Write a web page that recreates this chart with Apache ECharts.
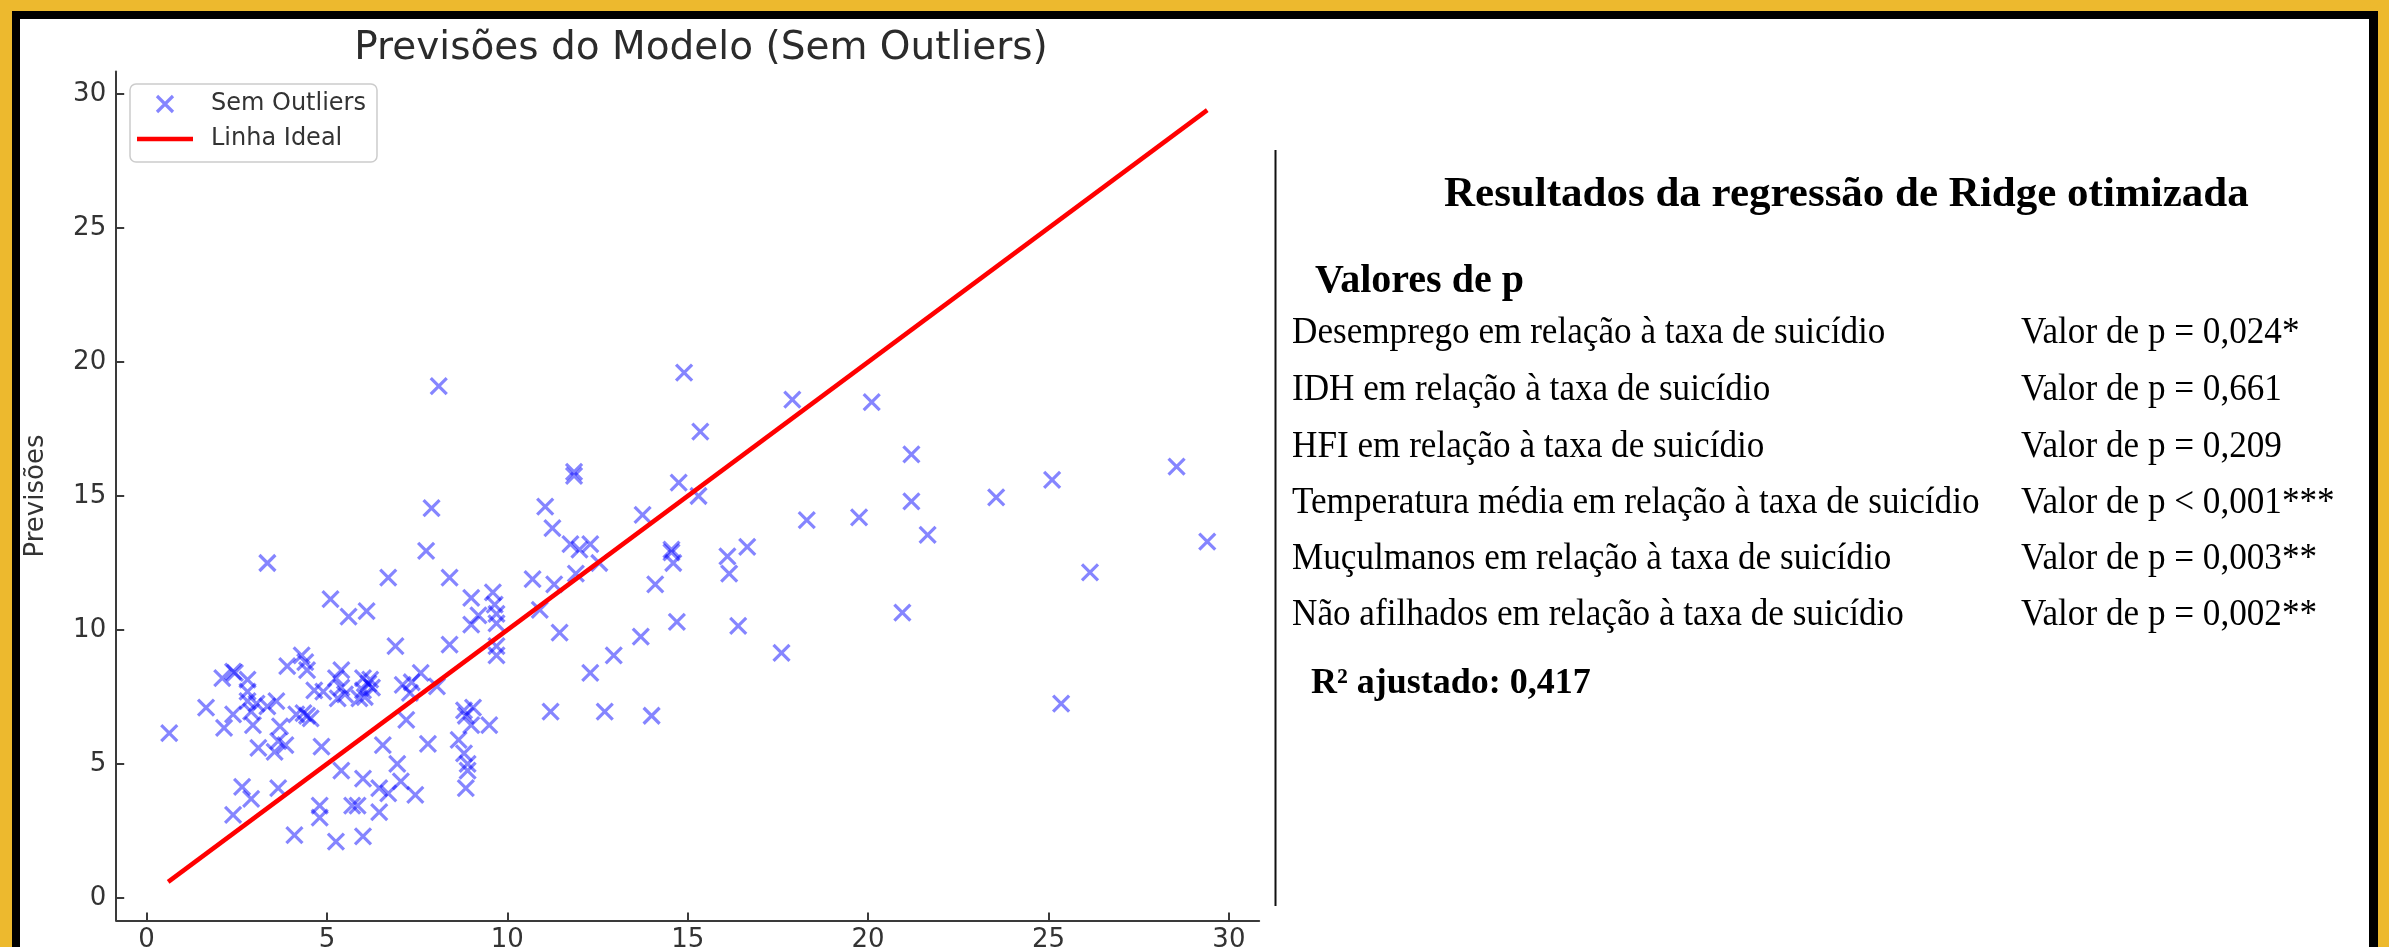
<!DOCTYPE html>
<html>
<head>
<meta charset="utf-8">
<script src="https://cdn.jsdelivr.net/npm/echarts@6/dist/echarts.min.js"></script>
<style>
html,body{margin:0;padding:0;background:#EDB92E;}
#chart{width:2389px;height:947px;}
</style>
</head>
<body>
<div id="chart"></div>
<script>
// ---------------- DATA ----------------
const chartTitle = "Previsões do Modelo (Sem Outliers)";
const yAxisName = "Previsões";
const seriesNames = ["Sem Outliers", "Linha Ideal"];
const axisTickValues = [0, 5, 10, 15, 20, 25, 30];

const actualValues = [
  8.1, 14.9, 17.9, 20.1, 15.35, 21.2, 28.55, 11.85, 11.85, 25.1,
  14.75, 15.3, 23.55, 21.2, 7.9, 11.05, 13.75, 19.75, 18.3, 11.25,
  21.65, 29.4, 11.75, 12.3, 16.65, 12.0, 14.55, 14.55, 7.75, 16.1,
  14.6, 12.55, 3.35, 26.15, 16.15, 11.9, 6.7, 8.4, 10.7, 11.3,
  14.1, 9.6, 9.0, 5.1, 9.65, 10.9, 6.1, 20.95, 9.7, 9.2,
  5.6, 14.7, 9.7, 9.0, 16.4, 11.45, 13.7, 8.4, 6.9, 9.7,
  17.6, 9.7, 12.95, 4.3, 4.4, 3.9, 4.45, 5.4, 2.4, 2.45,
  7.6, 12.3, 2.1, 5.25, 6.0, 6.2, 2.8, 7.35, 6.15, 7.1,
  8.05, 5.4, 6.25, 6.0, 4.65, 2.8, 4.9, 7.3, 5.5, 6.05,
  5.3, 5.9, 3.6, 2.8, 3.05, 25.35, 3.35, 1.65, 9.05, 8.8,
  2.9, 11.2, 12.7, 4.35, 2.4, 4.15, 8.85, 4.45, 14.0, 4.55,
  7.2, 2.95, 9.0, 9.5, 3.7, 2.15, 0.63, 8.65, 3.65, 7.8,
  3.85, 6.55, 4.85, 3.1, 3.55, 8.8, 6.95, 8.9, 8.9, 5.4,
  6.0, 7.05, 2.65, 3.65, 6.45, 8.85, 6.7, 7.45, 2.9, 5.7,
  5.85, 4.8, 6.45, 2.4, 4.8, 4.1, 6.0, 5.25
];
const predictedValues = [
  19.1, 19.6, 18.6, 18.5, 17.4, 16.55, 16.1, 15.9, 15.75, 15.6,
  15.5, 15.0, 14.95, 14.8, 14.55, 14.6, 14.3, 14.2, 14.1, 13.8,
  13.55, 13.3, 13.2, 13.2, 13.1, 13.0, 13.0, 12.9, 12.95, 12.75,
  12.5, 12.5, 12.5, 12.15, 12.1, 12.1, 11.95, 11.95, 11.9, 11.7,
  11.7, 11.4, 11.2, 11.15, 10.95, 10.75, 10.7, 10.65, 10.6, 10.55,
  10.5, 10.3, 10.25, 10.2, 10.15, 9.9, 9.75, 9.45, 9.4, 9.4,
  9.15, 9.05, 9.05, 9.05, 8.8, 8.65, 8.5, 8.5, 8.45, 8.4,
  8.4, 8.4, 8.2, 8.2, 8.2, 8.15, 8.15, 8.05, 8.0, 7.95,
  7.9, 7.85, 7.85, 7.75, 7.75, 7.7, 7.7, 7.65, 7.6, 7.5,
  7.45, 7.45, 7.35, 7.35, 7.25, 7.25, 7.15, 7.1, 7.1, 7.0,
  6.95, 6.95, 6.95, 6.9, 6.85, 6.85, 6.8, 6.8, 6.8, 6.7,
  6.65, 6.45, 6.45, 6.45, 6.4, 6.35, 6.15, 5.9, 5.85, 5.75,
  5.7, 5.7, 5.65, 5.6, 5.45, 5.4, 5.0, 5.0, 4.75, 4.75,
  4.45, 4.35, 4.15, 4.1, 4.1, 4.1, 3.9, 3.85, 3.7, 3.45,
  3.45, 3.45, 3.2, 3.1, 3.0, 2.35, 2.3, 2.1
];
// ideal line endpoints (min and max of the actual values)
const idealX = [0.6, 29.4];
const idealY = [0.6, 29.4];

// right-hand results panel
const panelTitle = "Resultados da regressão de Ridge otimizada";
const panelSubtitle = "Valores de p";
const predictorLabels = [
  "Desemprego em relação à taxa de suicídio",
  "IDH em relação à taxa de suicídio",
  "HFI em relação à taxa de suicídio",
  "Temperatura média em relação à taxa de suicídio",
  "Muçulmanos em relação à taxa de suicídio",
  "Não afilhados em relação à taxa de suicídio"
];
const pValueLabels = [
  "Valor de p = 0,024*",
  "Valor de p = 0,661",
  "Valor de p = 0,209",
  "Valor de p < 0,001***",
  "Valor de p = 0,003**",
  "Valor de p = 0,002**"
];
const r2Label = "R² ajustado: 0,417";

// ---------------- LAYOUT ----------------
const W = 2389, H = 947;
const axisMin = -0.84, axisMax = 30.84;
const plotFont = "DejaVu Sans";
const serif = "Liberation Serif";
const gray = "#333333";
const xSymbol = "path://M0,0L10,10M10,0L0,10";
const lineIcon = "path://M0,0H56V4.5H0Z";

function mid(baseline, size) { return baseline - 0.34 * size; }

const rowBaselines = [346, 403, 459.5, 516, 572, 628];
const bodySize = 37, bodyScale = 0.95;

const graphics = [
  // frame
  { type: "rect", z: -100, silent: true, shape: { x: 12, y: 11, width: 2366, height: 940 }, style: { fill: "#000000" } },
  { type: "rect", z: -99, silent: true, shape: { x: 20, y: 19, width: 2349, height: 930 }, style: { fill: "#ffffff" } },
  // divider
  { type: "line", silent: true, shape: { x1: 1275.5, y1: 150, x2: 1275.5, y2: 906 }, style: { stroke: "#111111", lineWidth: 2 } },
  // plot title
  { type: "text", silent: true, x: 701, y: mid(62, 39), style: { text: chartTitle, fill: "#2b2b2b", font: "39px '" + plotFont + "'", align: "center", verticalAlign: "middle" } },
  // panel title
  { type: "text", silent: true, x: 1444, y: mid(210, 43), style: { text: panelTitle, fill: "#000", font: "bold 43px '" + serif + "'", align: "left", verticalAlign: "middle" } },
  { type: "text", silent: true, x: 1315, y: mid(295, 40), style: { text: panelSubtitle, fill: "#000", font: "bold 40px '" + serif + "'", align: "left", verticalAlign: "middle" } },
  { type: "text", silent: true, x: 1311, y: mid(696, 36), style: { text: r2Label, fill: "#000", font: "bold 36px '" + serif + "'", align: "left", verticalAlign: "middle" } }
];
predictorLabels.forEach(function (t, i) {
  graphics.push({ type: "text", silent: true, x: 1292, y: mid(rowBaselines[i], bodySize), scaleX: bodyScale, style: { text: t, fill: "#000", font: bodySize + "px '" + serif + "'", align: "left", verticalAlign: "middle" } });
});
pValueLabels.forEach(function (t, i) {
  graphics.push({ type: "text", silent: true, x: 2021, y: mid(rowBaselines[i], bodySize), scaleX: bodyScale, style: { text: t, fill: "#000", font: bodySize + "px '" + serif + "'", align: "left", verticalAlign: "middle" } });
});

const scatterData = actualValues.map(function (x, i) { return [x, predictedValues[i]]; });
const lineData = idealX.map(function (x, i) { return [x, idealY[i]]; });

const axisCommon = {
  type: "value",
  min: axisMin,
  max: axisMax,
  splitLine: { show: false },
  axisLine: { show: true, onZero: false, lineStyle: { color: "#3a3a3a", width: 2 } },
  axisTick: { show: true, inside: true, length: 8, customValues: axisTickValues, lineStyle: { color: "#3a3a3a", width: 2 } },
  axisLabel: { customValues: axisTickValues, color: gray, fontFamily: plotFont, fontSize: 26 }
};

const chart = echarts.init(document.getElementById("chart"), null, { renderer: "canvas", width: W, height: H });
chart.setOption({
  backgroundColor: "#EDB92E",
  animation: false,
  grid: { left: 116.2, top: 71.5, width: 1143, height: 849, containLabel: false, outerBoundsMode: "none" },
  xAxis: Object.assign({}, axisCommon, {
    axisLabel: Object.assign({}, axisCommon.axisLabel, { margin: 7 })
  }),
  yAxis: Object.assign({}, axisCommon, {
    name: yAxisName,
    nameLocation: "middle",
    nameRotate: 90,
    nameGap: 67,
    nameTextStyle: { color: gray, fontFamily: plotFont, fontSize: 26 },
    axisLabel: Object.assign({}, axisCommon.axisLabel, { margin: 10 })
  }),
  legend: {
    orient: "vertical",
    left: 130,
    top: 84,
    padding: [8, 11, 11, 7],
    itemWidth: 56,
    itemHeight: 16,
    itemGap: 11,
    backgroundColor: "#ffffff",
    borderColor: "#cccccc",
    borderWidth: 1.5,
    borderRadius: 6,
    textStyle: { color: gray, fontFamily: plotFont, fontSize: 24, padding: [0, 0, 0, 13] },
    selectedMode: false,
    data: [
      { name: seriesNames[0], icon: xSymbol, itemStyle: { color: "rgba(0,0,0,0)", borderColor: "rgba(0,0,255,0.6)", borderWidth: 3.2 } },
      { name: seriesNames[1], icon: lineIcon, itemStyle: { color: "#ff0000", borderWidth: 0 } }
    ]
  },
  graphic: graphics,
  series: [
    {
      name: seriesNames[0],
      type: "scatter",
      data: scatterData,
      symbol: xSymbol,
      symbolSize: 16,
      itemStyle: { color: "rgba(0,0,0,0)", borderColor: "rgba(0,0,255,0.6)", borderWidth: 3.2 },
      silent: true
    },
    {
      name: seriesNames[1],
      type: "line",
      data: lineData,
      symbol: "none",
      lineStyle: { color: "#ff0000", width: 4.5 },
      itemStyle: { color: "#ff0000" },
      silent: true
    }
  ]
});
</script>
</body>
</html>
